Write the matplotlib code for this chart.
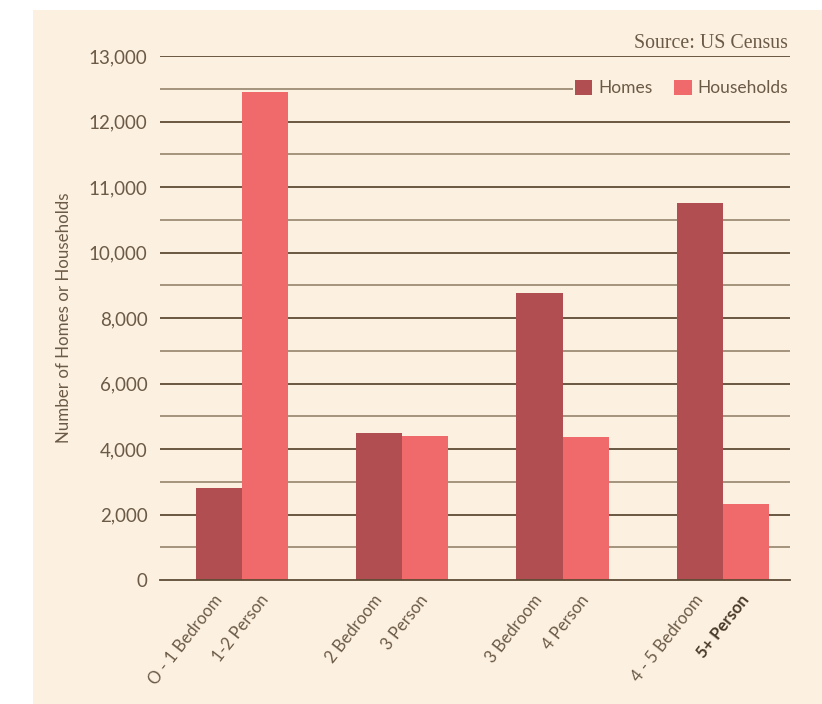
import matplotlib
matplotlib.use("Agg")
import matplotlib.pyplot as plt
import numpy as np

# Data (values read on the chart's own visual scale)
groups = ["0-1", "2", "3", "4-5"]
home_labels = ["O - 1 Bedroom", "2 Bedroom", "3 Bedroom", "4 - 5 Bedroom"]
household_labels = ["1-2 Person", "3 Person", "4 Person", "5+ Person"]
homes = [2820, 4490, 8760, 11510]
households = [14910, 4400, 4370, 2320]
ytick_values = [0, 2000, 4000, 6000, 8000, 10000, 12000, 14000, 16000]
ytick_labels = ["0", "2,000", "4,000", "6,000", "8,000", "10,000", "11,000", "12,000", "13,000"]
minor_values = [1000, 3000, 5000, 7000, 9000, 11000, 13000, 15000]

PANEL = "#fcf0e0"
TEXT = "#6b5a45"
HOME_C = "#b04e51"
HH_C = "#f0696b"
FONT = ["Lato", "DejaVu Sans"]

fig = plt.figure(figsize=(8.22, 7.04), dpi=100)
fig.patch.set_facecolor("white")
# beige panel
fig.patches.append(matplotlib.patches.Rectangle((33/822, 0), 1 - 33/822, 1 - 10/704,
                                                transform=fig.transFigure, facecolor=PANEL,
                                                edgecolor="none", zorder=-10))

ax = fig.add_axes([160/822, 124/704, 630/822, 524/704])
ax.set_facecolor(PANEL)

x = np.arange(len(groups))
w = 0.2875
ax.bar(x - w/2, homes, width=w, color=HOME_C, label="Homes", zorder=3)
ax.bar(x + w/2, households, width=w, color=HH_C, label="Households", zorder=3)

ax.set_xlim(-0.5125, 3.42)
ax.set_ylim(0, 16000)

for v in ytick_values[1:]:
    ax.axhline(v, color="#5e4c36", lw=1.3, zorder=1)
for v in minor_values:
    ax.axhline(v, color="#8c7b62", lw=1.1, zorder=1)

ax.set_yticks(ytick_values)
ax.set_yticklabels(ytick_labels, family=FONT, fontsize=13.5, color=TEXT)
xt = list(x - w/2) + list(x + w/2)
xl = home_labels + household_labels
ax.set_xticks(xt)
ax.set_xticklabels(xl, rotation=52, ha="right", va="center", rotation_mode="anchor",
                   family=FONT, fontsize=12, color=TEXT)
for t in ax.get_xticklabels():
    if t.get_text() == "5+ Person":
        t.set_color("#4a3a28")
        t.set_fontweight("bold")
ax.tick_params(axis="both", length=0)
ax.tick_params(axis="y", pad=9)
ax.tick_params(axis="x", pad=12)

for s in ["top", "right", "left"]:
    ax.spines[s].set_visible(False)
ax.spines["bottom"].set_color("#5e4c36")
ax.spines["bottom"].set_linewidth(1.3)
ax.spines["bottom"].set_zorder(4)

ax.set_ylabel("Number of Homes or Households", family=FONT, fontsize=12.2, color=TEXT, labelpad=12)

leg = ax.legend(ncol=2, loc="center right", bbox_to_anchor=(1.0, 0.939),
                frameon=True, facecolor=PANEL, edgecolor="none", framealpha=1,
                handlelength=1.0, handleheight=1.0, handletextpad=0.35, columnspacing=1.25,
                borderpad=0.1, borderaxespad=0,
                prop={"family": FONT, "size": 12.5})
for t in leg.get_texts():
    t.set_color(TEXT)
leg.set_zorder(5)

fig.text(788/822, 1 - 44/704, "Source: US Census", ha="right", va="center",
         family=["Liberation Serif", "DejaVu Serif"], fontsize=14.3, color=TEXT)

fig.savefig("out.png", dpi=100, facecolor="white")
